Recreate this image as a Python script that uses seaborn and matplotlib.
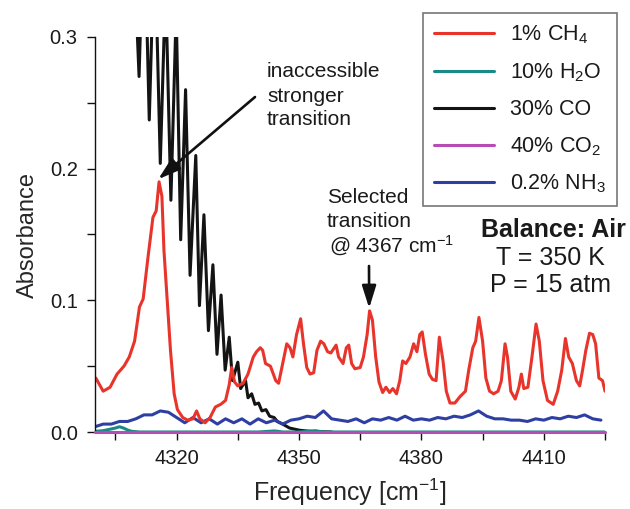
import numpy as np
import pandas as pd
import matplotlib
matplotlib.use("Agg")
import matplotlib.pyplot as plt
import seaborn as sns
from matplotlib.ticker import MultipleLocator, FixedLocator, FormatStrFormatter

# ---------------- data ----------------
ch4_freq = [4300.2, 4302.0, 4303.7, 4305.4, 4307.1, 4308.4, 4309.7, 4310.9, 4311.8, 4313.0,
            4314.2, 4315.0, 4315.7, 4316.4, 4316.9, 4317.7, 4318.5, 4319.4, 4320.2, 4321.5,
            4322.7, 4324.0, 4324.9, 4325.7, 4327.0, 4328.2, 4329.5, 4330.8, 4332.0, 4332.9,
            4333.5, 4334.2, 4335.0, 4336.3, 4337.5, 4338.8, 4339.6, 4340.5, 4341.1, 4341.8,
            4343.0, 4344.3, 4345.0, 4346.0, 4347.0, 4347.8, 4348.5, 4349.4, 4350.4, 4351.1,
            4351.9, 4352.7, 4353.6, 4354.4, 4355.3, 4356.1, 4357.0, 4357.8, 4359.1, 4359.7,
            4360.8, 4361.6, 4362.2, 4362.9, 4363.7, 4365.0, 4365.8, 4366.7, 4367.3, 4368.0,
            4368.8, 4369.6, 4370.5, 4371.3, 4372.2, 4373.0, 4373.9, 4374.7, 4375.4, 4376.2,
            4377.2, 4378.1, 4378.9, 4379.6, 4380.2, 4381.0, 4381.9, 4382.7, 4383.6, 4384.4,
            4385.3, 4386.1, 4387.0, 4388.2, 4389.5, 4390.8, 4391.6, 4392.6, 4393.3, 4394.1,
            4395.0, 4395.8, 4396.7, 4397.7, 4398.8, 4399.6, 4400.5, 4401.1, 4401.9, 4403.0,
            4403.9, 4404.5, 4405.1, 4406.1, 4407.1, 4408.1, 4408.9, 4409.8, 4410.9, 4412.3,
            4413.4, 4414.4, 4415.3, 4416.1, 4417.0, 4418.0, 4418.8, 4419.5, 4420.3, 4421.2,
            4422.0, 4422.7, 4423.5, 4424.4, 4425.0]
ch4_abs = [0.041, 0.031, 0.034, 0.044, 0.050, 0.057, 0.069, 0.095, 0.101, 0.133,
           0.163, 0.168, 0.190, 0.179, 0.138, 0.100, 0.062, 0.029, 0.017, 0.011,
           0.009, 0.010, 0.016, 0.010, 0.007, 0.011, 0.019, 0.021, 0.024, 0.036,
           0.049, 0.038, 0.035, 0.037, 0.044, 0.057, 0.061, 0.064, 0.062, 0.052,
           0.050, 0.039, 0.037, 0.052, 0.067, 0.064, 0.057, 0.074, 0.086, 0.067,
           0.049, 0.044, 0.045, 0.062, 0.069, 0.067, 0.061, 0.060, 0.066, 0.057,
           0.052, 0.064, 0.066, 0.052, 0.048, 0.049, 0.057, 0.074, 0.092, 0.085,
           0.057, 0.038, 0.030, 0.034, 0.030, 0.033, 0.029, 0.039, 0.054, 0.052,
           0.057, 0.067, 0.061, 0.074, 0.076, 0.059, 0.044, 0.040, 0.039, 0.072,
           0.054, 0.031, 0.022, 0.022, 0.027, 0.031, 0.047, 0.064, 0.069, 0.087,
           0.069, 0.041, 0.031, 0.029, 0.031, 0.039, 0.067, 0.057, 0.031, 0.025,
           0.034, 0.044, 0.033, 0.034, 0.057, 0.082, 0.069, 0.039, 0.024, 0.021,
           0.031, 0.047, 0.071, 0.057, 0.052, 0.039, 0.035, 0.047, 0.062, 0.075,
           0.074, 0.067, 0.041, 0.039, 0.031]

co_freq = [4309.6, 4310.8, 4312.0, 4313.3, 4314.6, 4316.0, 4317.3, 4318.6, 4319.9, 4321.0,
           4322.2, 4323.3, 4324.7, 4325.6, 4326.7, 4327.8, 4328.9, 4329.9, 4330.9, 4331.9,
           4332.9, 4333.7, 4335.0, 4335.7, 4336.9, 4337.5, 4338.4, 4339.2, 4340.1, 4340.9,
           4341.9, 4342.8, 4343.9, 4344.7, 4346.0, 4347.7, 4350.2, 4353.6, 4358.0]
co_abs = [0.36, 0.270, 0.40, 0.237, 0.38, 0.204, 0.34, 0.176, 0.32, 0.146,
          0.260, 0.119, 0.210, 0.096, 0.165, 0.077, 0.127, 0.059, 0.104, 0.047,
          0.072, 0.039, 0.053, 0.033, 0.039, 0.026, 0.029, 0.021, 0.022, 0.016,
          0.017, 0.012, 0.011, 0.008, 0.006, 0.003, 0.0013, 0.0003, 0.0]

nh3_freq = list(range(4300, 4426, 2))
nh3_abs = [0.004, 0.006, 0.006, 0.008, 0.008, 0.010, 0.013, 0.013, 0.016, 0.015,
           0.011, 0.007, 0.011, 0.007, 0.010, 0.006, 0.010, 0.007, 0.010, 0.006,
           0.010, 0.007, 0.009, 0.006, 0.009, 0.010, 0.012, 0.011, 0.016, 0.010,
           0.009, 0.008, 0.010, 0.007, 0.010, 0.009, 0.011, 0.009, 0.012, 0.009,
           0.010, 0.009, 0.011, 0.010, 0.012, 0.011, 0.013, 0.016, 0.012, 0.010,
           0.010, 0.009, 0.009, 0.008, 0.010, 0.009, 0.011, 0.010, 0.012, 0.011,
           0.013, 0.010, 0.009]

h2o_freq = [4300, 4302, 4303.5, 4305, 4306, 4307, 4308, 4309, 4311, 4340, 4344, 4346,
            4350, 4352, 4354, 4356, 4425]
h2o_abs = [0.0005, 0.001, 0.002, 0.003, 0.004, 0.003, 0.0015, 0.0005, 0.0, 0.0, 0.0008,
           0.0, 0.0, 0.0005, 0.001, 0.0, 0.0]

co2_freq = [4300, 4425]
co2_abs = [0.0, 0.0]

labels = ["1% CH$_4$", "10% H$_2$O", "30% CO", "40% CO$_2$", "0.2% NH$_3$"]
colors = ["#E8342B", "#1A8A86", "#141414", "#B84CB5", "#2E3FA3"]

x_major = [4320, 4350, 4380, 4410]
x_minor = [4305, 4335, 4365, 4395, 4425]

# ---------------- style ----------------
sns.set_theme(style="white")
plt.rcParams["font.family"] = ["Liberation Sans", "DejaVu Sans"]
plt.rcParams["mathtext.fontset"] = "custom"
plt.rcParams["mathtext.rm"] = "Liberation Sans"
plt.rcParams["mathtext.it"] = "Liberation Sans:italic"
plt.rcParams["mathtext.bf"] = "Liberation Sans:bold"
plt.rcParams["text.color"] = "#1a1a1a"

fig = plt.figure(figsize=(6.3, 5.09), dpi=100)
ax = fig.add_axes([95 / 630, 1 - 432 / 509, 510 / 630, 395 / 509])

lw = 2.2
series = {
    "CO": (co_freq, co_abs, colors[2], labels[2]),
    "NH3": (nh3_freq, nh3_abs, colors[4], labels[4]),
    "H2O": (h2o_freq, h2o_abs, colors[1], labels[1]),
    "CH4": (ch4_freq, ch4_abs, colors[0], labels[0]),
    "CO2": (co2_freq, co2_abs, colors[3], labels[3]),
}
handles = {}
for key, (fx, fy, col, lab) in series.items():
    df = pd.DataFrame({"freq": fx, "absorbance": fy})
    sns.lineplot(data=df, x="freq", y="absorbance", ax=ax, color=col, linewidth=lw,
                 estimator=None, sort=False, label=lab, legend=False)
    ln = ax.get_lines()[-1]
    ln.set_solid_joinstyle("round")
    handles[key] = ln
handles["CO2"].set_clip_on(False)
handles["CO2"].set_zorder(3)

ax.set_xlim(4300, 4425)
ax.set_ylim(0, 0.3)
ax.xaxis.set_major_locator(FixedLocator(x_major))
ax.xaxis.set_minor_locator(FixedLocator(x_minor))
ax.yaxis.set_major_locator(MultipleLocator(0.1))
ax.yaxis.set_minor_locator(MultipleLocator(0.05))
ax.yaxis.set_major_formatter(FormatStrFormatter("%.1f"))

for s in ["top", "right"]:
    ax.spines[s].set_visible(False)
for s in ["left", "bottom"]:
    ax.spines[s].set_color("#111111")
    ax.spines[s].set_linewidth(1.0)
ax.tick_params(axis="both", which="both", direction="out", length=5.5, width=1.0,
               color="#111111", bottom=True, left=True, labelsize=14.5, pad=7,
               labelcolor="#1a1a1a")

ax.set_xlabel("Frequency [cm$^{-1}$]", fontsize=18, labelpad=6)
ax.set_ylabel("Absorbance", fontsize=17, labelpad=8)

order = ["CH4", "H2O", "CO", "CO2", "NH3"]
leg = fig.legend([handles[k] for k in order], [series[k][3] for k in order],
                 loc="upper left", bbox_to_anchor=(423 / 630, 1 - 13 / 509),
                 bbox_transform=fig.transFigure, frameon=True, fancybox=False,
                 edgecolor="#555555", fontsize=15.5, handlelength=2.8, handletextpad=0.75,
                 borderpad=0.5, labelspacing=0.7, borderaxespad=0)
leg.get_frame().set_linewidth(1.2)

# ---------------- annotations ----------------
def ftxt(xp, yp, s, **kw):
    fig.text(xp / 630, 1 - yp / 509, s, va="baseline", **kw)

ftxt(267, 77, "inaccessible", fontsize=15)
ftxt(267, 101.7, "stronger", fontsize=15)
ftxt(267, 125, "transition", fontsize=15)

ftxt(327, 203, "Selected", fontsize=15)
ftxt(327, 227, "transition", fontsize=15)
ftxt(329, 253, "@ 4367 cm$^{-1}$", fontsize=15)

ftxt(553, 237, "Balance: Air", fontsize=18, fontweight="bold", ha="center")
ftxt(550, 265, "T = 350 K", fontsize=18, ha="center")
ftxt(550, 292, "P = 15 atm", fontsize=18, ha="center")

arrow_kw = dict(arrowstyle="-|>,head_length=0.8,head_width=0.25", lw=1.9, color="#111111",
                shrinkA=0, shrinkB=0, mutation_scale=17)
ax.annotate("", xy=(4315.5, 0.192), xycoords="data", xytext=(255, 509 - 97),
            textcoords="figure pixels", arrowprops=arrow_kw)
ax.annotate("", xy=(4367.2, 0.094), xycoords="data", xytext=(369, 509 - 266),
            textcoords="figure pixels", arrowprops=arrow_kw)

fig.savefig("out.png", dpi=100)
